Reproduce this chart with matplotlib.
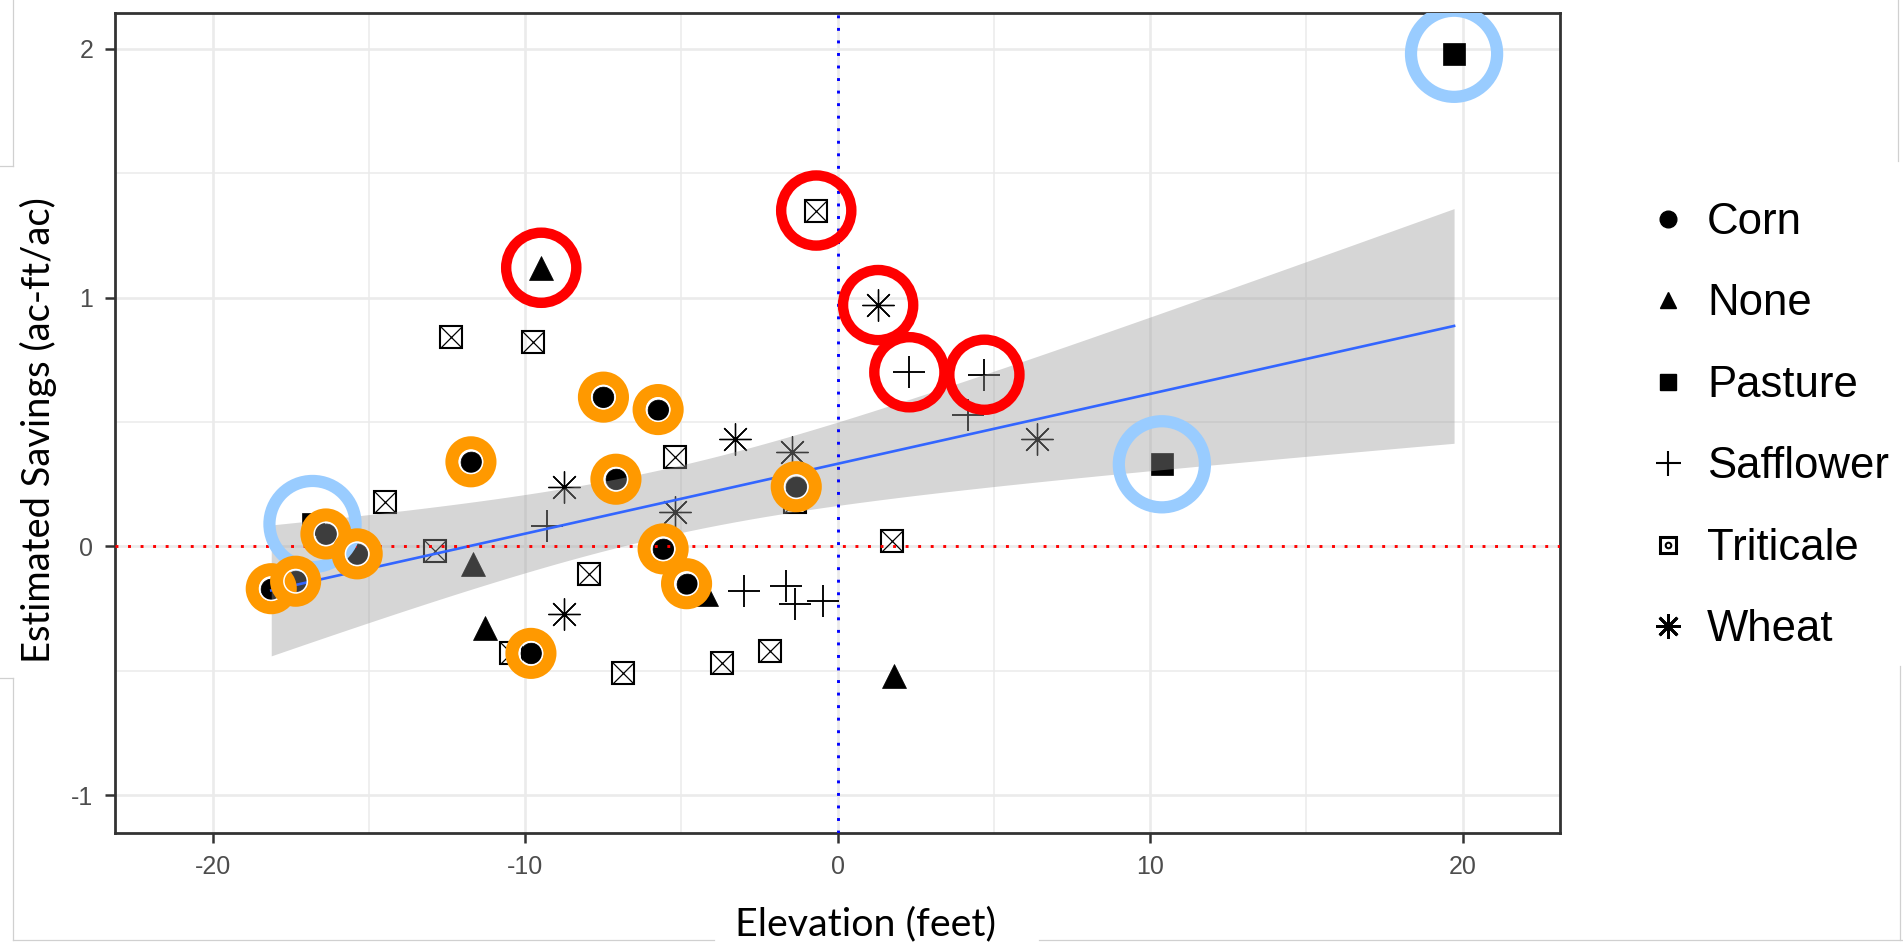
import numpy as np
import matplotlib
matplotlib.use("Agg")
import matplotlib.pyplot as plt
from matplotlib.lines import Line2D

plt.rcParams["font.family"] = ["Liberation Sans", "DejaVu Sans"]
plt.rcParams["axes.unicode_minus"] = False

# ---- Elevation (ft) vs estimated savings (ac-ft/ac), grouped by crop ----
corn_x = [-18.12, -17.34, -16.37, -15.37, -11.73, -9.81, -7.49, -7.09, -5.74, -5.58, -4.83, -1.32]
corn_y = [-0.17, -0.14, 0.05, -0.03, 0.34, -0.43, 0.60, 0.27, 0.55, -0.01, -0.15, 0.24]

none_x = [-9.48, -11.68, -11.28, 1.80, -4.20]
none_y = [1.12, -0.07, -0.33, -0.52, -0.19]

pasture_x = [19.73, 10.38, -16.80]
pasture_y = [1.98, 0.33, 0.09]

safflower_x = [2.30, 4.70, 4.19, -9.29, -17.35, -2.99, -1.66, -1.36, -0.47]
safflower_y = [0.70, 0.69, 0.53, 0.08, -0.17, -0.18, -0.16, -0.23, -0.22]

triticale_x = [-0.68, -12.38, -9.76, -5.20, -14.49, -12.88, -7.96, -6.85, -10.45, -3.69, -2.17, 1.73, -1.36]
triticale_y = [1.35, 0.84, 0.82, 0.36, 0.18, -0.02, -0.11, -0.51, -0.43, -0.47, -0.42, 0.02, 0.18]

wheat_x = [1.30, -3.28, -1.47, 6.39, -8.76, -8.76, -5.20]
wheat_y = [0.97, 0.43, 0.38, 0.43, 0.24, -0.27, 0.14]

crops = ["Corn", "None", "Pasture", "Safflower", "Triticale", "Wheat"]
series = {
    "Corn": (corn_x, corn_y),
    "None": (none_x, none_y),
    "Pasture": (pasture_x, pasture_y),
    "Safflower": (safflower_x, safflower_y),
    "Triticale": (triticale_x, triticale_y),
    "Wheat": (wheat_x, wheat_y),
}

# fields singled out with rings (indices into each crop's lists)
red_marked = {"None": [0], "Triticale": [0], "Wheat": [0], "Safflower": [0, 1]}
orange_marked = {"Corn": list(range(len(corn_x)))}
blue_marked = {"Pasture": [0, 1, 2]}

x_ticks = [-20, -10, 0, 10, 20]
y_ticks = [-1, 0, 1, 2]

W, H = 1903, 943
fig = plt.figure(figsize=(W / 100, H / 100), dpi=100)
fig.patch.set_facecolor("white")

L, R, T, B = 115, 1560, 12.5, 833
ax = fig.add_axes([L / W, 1 - B / H, (R - L) / W, (B - T) / H])
ax.set_xlim(-23.12, 23.12)
ax.set_ylim(-1.152, 2.146)

# grid in the style of theme_bw
ax.set_axisbelow(True)
ax.set_xticks(x_ticks)
ax.set_yticks(y_ticks)
ax.set_xticks([-15, -5, 5, 15], minor=True)
ax.set_yticks([-0.5, 0.5, 1.5], minor=True)
ax.grid(which="major", color="#ebebeb", lw=1.9)
ax.grid(which="minor", color="#ebebeb", lw=1.15)
ax.tick_params(which="minor", length=0)
ax.tick_params(which="major", length=7.5, width=1.8, color="#333333",
               labelsize=18, labelcolor="#4d4d4d", pad=8)
for sp in ax.spines.values():
    sp.set_color("#333333")
    sp.set_linewidth(2.0)

# ---- points ----
pt_black = "black"
ax.plot(corn_x, corn_y, ls="none", marker="o", ms=15, mfc=pt_black, mec=pt_black, mew=0.5, zorder=3)
ax.plot(none_x, none_y, ls="none", marker="^", ms=17, mfc=pt_black, mec=pt_black, mew=0.5, zorder=3)
ax.plot(pasture_x, pasture_y, ls="none", marker="s", ms=15.5, mfc=pt_black, mec=pt_black, mew=0.5, zorder=3)
ax.plot(safflower_x, safflower_y, ls="none", marker="+", ms=23, mec=pt_black, mew=1.35, zorder=3)
ax.plot(triticale_x, triticale_y, ls="none", marker="s", ms=15.5, mfc="none", mec=pt_black, mew=1.5, zorder=3)
ax.plot(triticale_x, triticale_y, ls="none", marker="x", ms=15.5, mec=pt_black, mew=0.9, zorder=3)
ax.plot(wheat_x, wheat_y, ls="none", marker=(8, 2, 0), ms=23, mec=pt_black, mew=0.95, zorder=3)
ax.plot(wheat_x, wheat_y, ls="none", marker="o", ms=2.5, mfc=pt_black, mec=pt_black, zorder=3)

# ---- linear fit with 95% confidence band ----
xa = np.concatenate([np.asarray(series[c][0], float) for c in crops])
ya = np.concatenate([np.asarray(series[c][1], float) for c in crops])
n = xa.size
slope, intercept = np.polyfit(xa, ya, 1)
resid = ya - (slope * xa + intercept)
s_err = np.sqrt(np.sum(resid ** 2) / (n - 2))
xbar = xa.mean()
sxx = np.sum((xa - xbar) ** 2)


def t_quantile_975(df):
    z = 1.959964
    return (z + (z ** 3 + z) / (4 * df)
            + (5 * z ** 5 + 16 * z ** 3 + 3 * z) / (96 * df ** 2)
            + (3 * z ** 7 + 19 * z ** 5 + 17 * z ** 3 - 15 * z) / (384 * df ** 3))


tq = t_quantile_975(n - 2)
xg = np.linspace(xa.min(), xa.max(), 80)
yg = slope * xg + intercept
half = tq * s_err * np.sqrt(1 / n + (xg - xbar) ** 2 / sxx)
ax.fill_between(xg, yg - half, yg + half, color="#999999", alpha=0.4, lw=0, zorder=4)
ax.plot(xg, yg, color="#3366ff", lw=1.9, zorder=5)

# ---- reference lines at zero ----
ax.axhline(0, color="#ff0000", lw=2.1, ls=(0, (1, 3.3)), zorder=6)
ax.axvline(0, color="#0000ff", lw=2.1, ls=(0, (1, 3.3)), zorder=6)


# ---- highlight rings ----
def ring_points(marks):
    px, py = [], []
    for crop, idx in marks.items():
        xs, ys = series[crop]
        for i in idx:
            px.append(xs[i])
            py.append(ys[i])
    return px, py


bx, by = ring_points(blue_marked)
ax.scatter(bx, by, s=62 ** 2, marker="o", facecolors="none", edgecolors="#99ccff", linewidths=8.8, zorder=7)
ox, oy = ring_points(orange_marked)
for xo, yo in zip(ox, oy):
    ax.scatter([xo], [yo], s=27.2 ** 2, marker="o", facecolors="none", edgecolors="#ff9900", linewidths=9.6, zorder=8)
    ax.scatter([xo], [yo], s=16.9 ** 2, marker="o", facecolors="none", edgecolors="white", linewidths=1.1, zorder=8)
rx, ry = ring_points(red_marked)
ax.scatter(rx, ry, s=50.5 ** 2, marker="o", facecolors="none", edgecolors="#ff0000", linewidths=7.5, zorder=9)

# ---- legend ----
handles = [
    Line2D([], [], ls="none", marker="o", ms=12, mfc="black", mec="black"),
    Line2D([], [], ls="none", marker="^", ms=11, mfc="black", mec="black"),
    Line2D([], [], ls="none", marker="s", ms=11, mfc="black", mec="black"),
    Line2D([], [], ls="none", marker="+", ms=18, mec="black", mew=1.5),
    (Line2D([], [], ls="none", marker="s", ms=11.5, mfc="none", mec="black", mew=2.2),
     Line2D([], [], ls="none", marker="o", ms=4, mfc="none", mec="black", mew=1.5)),
    Line2D([], [], ls="none", marker=(8, 2, 0), ms=18, mec="black", mew=2.0),
]
fs_leg = 31.5
fs_px = fs_leg * 100 / 72
leg = fig.legend(handles, crops, loc="upper left",
                 bbox_to_anchor=((1668 - 0.5 * fs_px) / W, 1 - 202 / H),
                 frameon=False, fontsize=fs_leg, handlelength=1.0,
                 handletextpad=0.39, labelspacing=0.925, borderpad=0, borderaxespad=0)

# ---- axis titles ----
xlab = fig.text(865.5 / W, 1 - 935 / H, "Elevation (feet)", ha="center", va="baseline",
                family=["Lato", "DejaVu Sans"], fontsize=30, color="black")
ylab = fig.text(38 / W, 1 - 430 / H, "Estimated Savings (ac-ft/ac)", rotation=90,
                ha="center", va="center", family=["Lato", "DejaVu Sans"], fontsize=30, color="black")

fig.canvas.draw()
rend = fig.canvas.get_renderer()
wx = xlab.get_window_extent(rend).width
xlab.set_fontsize(30 * 261 / wx)
hy = ylab.get_window_extent(rend).height
ylab.set_fontsize(30 * 465 / hy)

# ---- thin frame lines around the figure ----
frame_segments = [
    ((13, 0), (13, 166)), ((0, 166), (13, 166)),
    ((0, 678), (13, 678)), ((13, 678), (13, 940)),
    ((13, 940), (714, 940)), ((1039, 940), (1903, 940)),
    ((1898, 0), (1898, 161)), ((1900, 666), (1900, 940)),
]
for (x0, y0), (x1, y1) in frame_segments:
    fig.add_artist(Line2D([x0 / W, x1 / W], [1 - y0 / H, 1 - y1 / H],
                          transform=fig.transFigure, color="#d0d0d0", lw=0.9))

fig.savefig("out.png", dpi=100, facecolor="white")
